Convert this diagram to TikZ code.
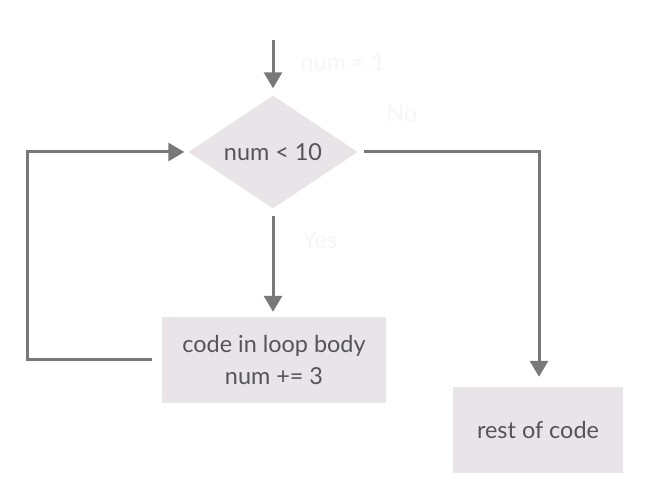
\documentclass[tikz,border=0pt]{standalone}
\usepackage{fontspec}
\setmainfont{Lato}
\usetikzlibrary{shapes.geometric,arrows.meta}
\definecolor{shapefill}{RGB}{232,228,232}
\definecolor{linegray}{RGB}{120,120,120}
\definecolor{textgray}{RGB}{85,85,85}
\definecolor{faint}{RGB}{246,246,246}
\tikzset{
  x=1bp, y=-1bp,
  every node/.style={font=\fontsize{23.5}{33}\selectfont, text=textgray},
  decision/.style={shape=diamond, fill=shapefill, inner sep=0pt,
    minimum width=169bp, minimum height=113bp, shape aspect=1.5},
  procbox/.style={rectangle, fill=shapefill, inner sep=0pt, align=center},
  conn/.style={draw=linegray, line width=3bp,
    -{Triangle[length=16bp, width=18bp]}},
  faintlabel/.style={text=faint}
}
\begin{document}
\begin{tikzpicture}
\useasboundingbox (0,0) rectangle (650,500);
\node[decision] (d) at (273,152) {num < 10};
\node[procbox, minimum width=224bp, minimum height=86bp] (loop) at (274,360)
  {code in loop body\\num += 3};
\node[procbox, minimum width=170bp, minimum height=86bp] (rest) at (538,430)
  {rest of code};
\coordinate (start) at (273,40);
\coordinate (rc) at (539,152);
\coordinate (lb) at (27,359);
\coordinate (lt) at (27,152);
\draw[conn, shorten >=7bp] (start) -- (d.north);
\draw[conn, shorten <=7bp, shorten >=5bp] (d.south) -- (loop.north -| d.south);
\draw[conn, shorten <=6bp, shorten >=10bp] (d.east) -- (rc) -- (rest.north -| rc);
\draw[conn, shorten <=10bp, shorten >=4bp] (loop.west |- lb) -- (lb) -- (lt) -- (d.west);
\node[faintlabel] (lnum) at (343,62) {num = 1};
\node[faintlabel] (lno) at (402,113) {No};
\node[faintlabel] (lyes) at (320,240) {Yes};
\end{tikzpicture}
\end{document}
